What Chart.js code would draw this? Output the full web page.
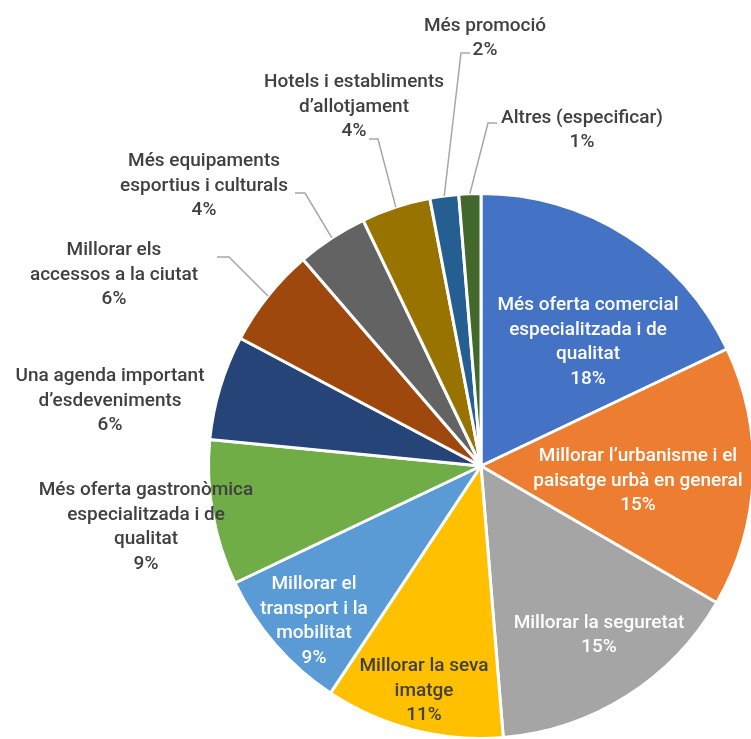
<!DOCTYPE html>
<html>
<head>
<meta charset="utf-8">
<script src="https://cdn.jsdelivr.net/npm/chart.js@4"></script>
<style>
  html, body { margin: 0; padding: 0; background: #ffffff; overflow: hidden; }
  #wrap { width: 760px; height: 760px; }
  canvas { display: block; }
</style>
</head>
<body>
<div id="wrap"><canvas id="c" width="760" height="760"></canvas></div>
<script>
// ---- Data ----
const categories = [
  "Més oferta comercial especialitzada i de qualitat",
  "Millorar l’urbanisme i el paisatge urbà en general",
  "Millorar la seguretat",
  "Millorar la seva imatge",
  "Millorar el transport i la mobilitat",
  "Més oferta gastronòmica especialitzada i de qualitat",
  "Una agenda important d’esdeveniments",
  "Millorar els accessos a la ciutat",
  "Més equipaments esportius i culturals",
  "Hotels i establiments d’allotjament",
  "Més promoció",
  "Altres (especificar)"
];
const values = [17.9, 15.4, 15.3, 10.6, 8.6, 8.6, 6.2, 5.9, 4.2, 4.1, 1.7, 1.3];
const labelLines = [
  ["Més oferta comercial", "especialitzada i de", "qualitat"],
  ["Millorar l’urbanisme i el", "paisatge urbà en general"],
  ["Millorar la seguretat"],
  ["Millorar la seva", "imatge"],
  ["Millorar el", "transport i la", "mobilitat"],
  ["Més oferta gastronòmica", "especialitzada i de", "qualitat"],
  ["Una agenda important", "d’esdeveniments"],
  ["Millorar els", "accessos a la ciutat"],
  ["Més equipaments", "esportius i culturals"],
  ["Hotels i establiments", "d’allotjament"],
  ["Més promoció"],
  ["Altres (especificar)"]
];
const colors = ["#4472C4", "#ED7D31", "#A5A5A5", "#FFC000", "#5B9BD5", "#70AD47",
                "#264478", "#9E480E", "#636363", "#997300", "#255E91", "#43682B"];
const textColors = ["#ffffff", "#ffffff", "#ffffff", "#404040", "#ffffff", "#404040",
                    "#404040", "#404040", "#404040", "#404040", "#404040", "#404040"];

// ---- Label layout (text centers, leader elbows/ends) ----
const labelPos = [
  [588, 342], [638, 481], [599, 635], [424, 691], [314, 621], [146, 527],
  [110, 401], [114, 275], [204, 186], [354, 107], [485, 38], [582, 130]
];
const leaders = {
  7:  [[229, 257], [217, 257]],
  8:  [[305, 193], [295, 193]],
  9:  [[378, 139], [369, 139]],
  10: [[461, 53], [470, 53]],
  11: [[488, 123], [497, 123]]
};

const FONT = "500 19px Roboto";
const LINE_H = 24.5;

const labelPlugin = {
  id: "labels",
  afterDatasetsDraw(chart) {
    const ctx = chart.ctx;
    const meta = chart.getDatasetMeta(0);
    const total = values.reduce((a, b) => a + b, 0);
    ctx.save();
    // leader lines
    ctx.strokeStyle = "#A6A6A6";
    ctx.lineWidth = 1.5;
    Object.keys(leaders).forEach(k => {
      const i = +k;
      const arc = meta.data[i];
      const p = arc.getProps(["x", "y", "startAngle", "endAngle", "outerRadius"], true);
      const mid = (p.startAngle + p.endAngle) / 2;
      const ex = p.x + Math.cos(mid) * p.outerRadius;
      const ey = p.y + Math.sin(mid) * p.outerRadius;
      const [elbow, end] = leaders[i];
      ctx.beginPath();
      ctx.moveTo(ex, ey);
      ctx.lineTo(elbow[0], elbow[1]);
      ctx.lineTo(end[0], end[1]);
      ctx.stroke();
    });
    // text
    ctx.font = FONT;
    ctx.textAlign = "center";
    ctx.textBaseline = "middle";
    values.forEach((v, i) => {
      const lines = labelLines[i].concat([Math.round(v / total * 100) + "%"]);
      const [cx, cy] = labelPos[i];
      const y0 = cy - (lines.length - 1) * LINE_H / 2;
      ctx.fillStyle = textColors[i];
      lines.forEach((ln, j) => ctx.fillText(ln, cx, y0 + j * LINE_H));
    });
    ctx.restore();
  }
};

new Chart(document.getElementById("c"), {
  type: "pie",
  data: {
    labels: categories,
    datasets: [{
      data: values,
      backgroundColor: colors,
      borderColor: "#ffffff",
      borderWidth: 3,
      hoverOffset: 0
    }]
  },
  options: {
    responsive: false,
    animation: false,
    events: [],
    layout: { padding: { left: 207, right: 5, top: 192, bottom: 20 } },
    plugins: { legend: { display: false }, tooltip: { enabled: false } }
  },
  plugins: [labelPlugin]
});
</script>
</body>
</html>
